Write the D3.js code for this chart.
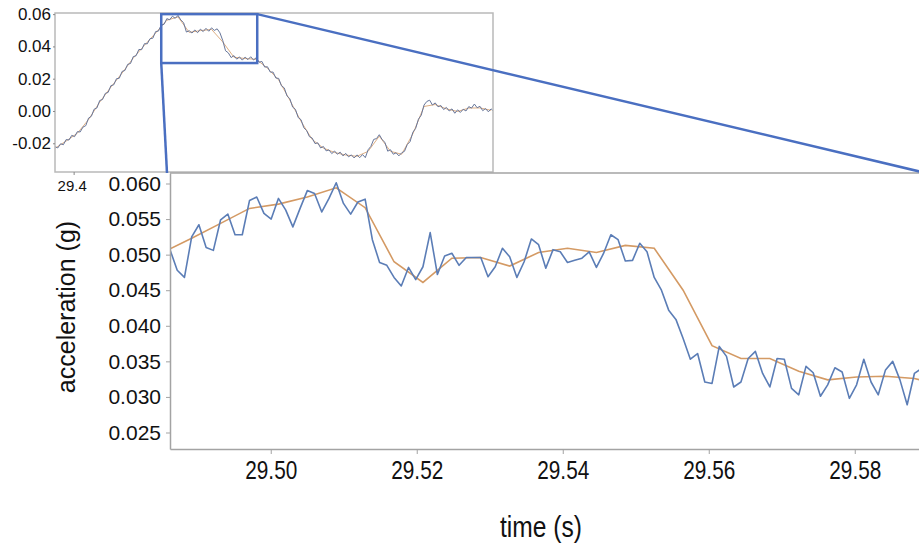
<!DOCTYPE html>
<html>
<head>
<meta charset="utf-8">
<script src="https://cdn.jsdelivr.net/npm/d3@7"></script>
<style>
  body { margin: 0; background: #fff; }
  svg { display: block; }
</style>
</head>
<body>
<svg width="919" height="547"></svg>
<script>
// ---- zoomed panel: raw samples (blue) and smoothed trace (orange) ----
var rawStart = 29.4862, rawStep = 0.00099;
var rawAccel = [
  0.0507, 0.0478, 0.0468, 0.0525, 0.0542, 0.0510, 0.0506, 0.0549, 0.0557, 0.0528,
  0.0528, 0.0576, 0.0581, 0.0558, 0.0550, 0.0579, 0.0563, 0.0539, 0.0565, 0.0590,
  0.0586, 0.0560, 0.0579, 0.0601, 0.0572, 0.0557, 0.0574, 0.0578, 0.0521, 0.0489,
  0.0485, 0.0468, 0.0456, 0.0482, 0.0465, 0.0483, 0.0531, 0.0472, 0.0498, 0.0502,
  0.0485, 0.0496, 0.0496, 0.0496, 0.0469, 0.0483, 0.0509, 0.0497, 0.0468, 0.0490,
  0.0522, 0.0514, 0.0481, 0.0507, 0.0504, 0.0489, 0.0492, 0.0495, 0.0504, 0.0482,
  0.0502, 0.0528, 0.0521, 0.0491, 0.0492, 0.0516, 0.0504, 0.0468, 0.0450, 0.0422,
  0.0409, 0.0382, 0.0353, 0.0361, 0.0321, 0.0319, 0.0371, 0.0357, 0.0314, 0.0321,
  0.0354, 0.0364, 0.0333, 0.0314, 0.0354, 0.0353, 0.0312, 0.0303, 0.0343, 0.0334,
  0.0301, 0.0317, 0.0341, 0.0335, 0.0298, 0.0317, 0.0353, 0.0321, 0.0303, 0.0338,
  0.0350, 0.0324, 0.0289, 0.0333, 0.0340
];
// smoothed trace is kept every 4th sample, starting one sample before rawStart
var smoothStart = 29.4862 - 0.00099, smoothStep = 0.00396;
var smoothAccel = [
  0.0503, 0.0523, 0.0544, 0.0565, 0.0571, 0.0581, 0.0594, 0.0566, 0.0490, 0.0461,
  0.0495, 0.0496, 0.0484, 0.0503, 0.0509, 0.0503, 0.0513, 0.0509, 0.0450, 0.0372,
  0.0354, 0.0354, 0.0336, 0.0324, 0.0328, 0.0329, 0.0326, 0.0316
];
var xTicks = [29.50, 29.52, 29.54, 29.56, 29.58];
var yTicks = [0.025, 0.030, 0.035, 0.040, 0.045, 0.050, 0.055, 0.060];

// ---- overview inset ----
var insetStart = 29.38, insetStep = 0.003;
var insetRaw = [
  -0.0221, -0.0229, -0.0203, -0.0209, -0.0177, -0.0180, -0.0151, -0.0159, -0.0128, -0.0130,
  -0.0100, -0.0091, -0.0044, -0.0033, 0.0011, 0.0019, 0.0065, 0.0071, 0.0109, 0.0115,
  0.0157, 0.0162, 0.0200, 0.0203, 0.0245, 0.0251, 0.0289, 0.0294, 0.0337, 0.0342,
  0.0381, 0.0380, 0.0417, 0.0416, 0.0448, 0.0451, 0.0492, 0.0495, 0.0533, 0.0537,
  0.0572, 0.0565, 0.0587, 0.0574, 0.0592, 0.0564, 0.0547, 0.0489, 0.0497, 0.0483,
  0.0502, 0.0485, 0.0507, 0.0492, 0.0512, 0.0494, 0.0515, 0.0499, 0.0509, 0.0484,
  0.0437, 0.0373, 0.0360, 0.0331, 0.0343, 0.0321, 0.0335, 0.0315, 0.0334, 0.0318,
  0.0336, 0.0316, 0.0330, 0.0302, 0.0307, 0.0272, 0.0274, 0.0241, 0.0241, 0.0204,
  0.0202, 0.0156, 0.0143, 0.0093, 0.0076, 0.0024, 0.0010, -0.0041, -0.0054, -0.0104,
  -0.0121, -0.0159, -0.0168, -0.0202, -0.0197, -0.0229, -0.0220, -0.0247, -0.0241, -0.0264,
  -0.0248, -0.0268, -0.0255, -0.0278, -0.0263, -0.0284, -0.0272, -0.0291, -0.0272, -0.0289,
  -0.0270, -0.0289, -0.0240, -0.0219, -0.0176, -0.0171, -0.0147, -0.0177, -0.0194, -0.0249,
  -0.0240, -0.0268, -0.0259, -0.0278, -0.0259, -0.0250, -0.0208, -0.0190, -0.0132, -0.0108,
  -0.0051, -0.0026, 0.0037, 0.0059, 0.0067, 0.0037, 0.0050, 0.0026, 0.0034, 0.0009,
  0.0022, 0.0000, 0.0013, -0.0014, 0.0007, -0.0009, 0.0011, 0.0000, 0.0027, 0.0018,
  0.0043, 0.0020, 0.0029, 0.0002, 0.0015, -0.0005, 0.0013, -0.0004
];
var insetSmoothStep = 0.012;
var insetSmooth = [
  -0.0231, -0.0186, -0.0138, -0.0053, 0.0055, 0.0148, 0.0235, 0.0328, 0.0407, 0.0483,
  0.0562, 0.0583, 0.0487, 0.0498, 0.0505, 0.0428, 0.0333, 0.0325, 0.0320, 0.0265,
  0.0192, 0.0067, -0.0064, -0.0177, -0.0230, -0.0257, -0.0273, -0.0281, -0.0250, -0.0156,
  -0.0250, -0.0268, -0.0142, 0.0028, 0.0040, 0.0013, -0.0003, 0.0018, 0.0019, 0.0004
];
// only the first inset time label is left uncovered by the big panel
var insetXTicks = [29.4];
var insetYTicks = [-0.02, 0.00, 0.02, 0.04, 0.06];
// region of the inset that the big panel shows
var zoomTime = [29.494, 29.597];
var zoomAccel = [0.0297, 0.060];

var svg = d3.select("svg"),
    width = +svg.attr("width"),
    height = +svg.attr("height");

var blue = "#5b7db6", orange = "#d49a64", boxBlue = "#4a6fc1", axisGray = "#a3a3a3";
var sans = "'Liberation Sans', Arial, Helvetica, sans-serif";

function toPoints(values, start, step) {
    return values.map(function (v, i) { return { t: start + i * step, a: v }; });
}

// ================= inset =================
var ix = d3.scaleLinear().domain([29.38, 29.85]).range([55, 493]);
var iy = d3.scaleLinear().domain([-0.0378, 0.0607]).range([172, 13]);

svg.append("clipPath").attr("id", "clipInset")
    .append("rect").attr("x", 55).attr("y", 13).attr("width", 438).attr("height", 159);

var insetLine = d3.line()
    .x(function (d) { return ix(d.t); })
    .y(function (d) { return iy(d.a); });

var inset = svg.append("g").attr("class", "inset");

inset.append("path")
    .datum(toPoints(insetSmooth, insetStart, insetSmoothStep))
    .attr("clip-path", "url(#clipInset)")
    .attr("fill", "none")
    .attr("stroke", orange)
    .attr("stroke-opacity", 0.8)
    .attr("stroke-width", 1)
    .attr("d", insetLine);

inset.append("path")
    .datum(toPoints(insetRaw, insetStart, insetStep))
    .attr("clip-path", "url(#clipInset)")
    .attr("fill", "none")
    .attr("stroke", "#67769a")
    .attr("stroke-width", 1)
    .attr("d", insetLine);

inset.append("rect")
    .attr("x", 55).attr("y", 13).attr("width", 438).attr("height", 159)
    .attr("fill", "none")
    .attr("stroke", "#b9b9b9")
    .attr("stroke-width", 1.5);

var insetYAxis = inset.append("g")
    .attr("transform", "translate(55,0)")
    .call(d3.axisLeft(iy).tickValues(insetYTicks).tickSize(2).tickPadding(2)
        .tickFormat(function (d) { return d3.format(".2f")(d).replace("\u2212", "-"); }));
var insetXAxis = inset.append("g")
    .attr("transform", "translate(0,172)")
    .call(d3.axisBottom(ix).tickValues(insetXTicks).tickSize(3).tickPadding(5)
        .tickFormat(d3.format(".1f")));

[insetYAxis, insetXAxis].forEach(function (g) {
    g.select(".domain").remove();
    g.selectAll(".tick line").attr("stroke", "#888");
    g.selectAll("text").attr("fill", "#111").style("font-family", sans);
});
insetYAxis.selectAll("text").style("font-size", "17px");
insetXAxis.selectAll("text").style("font-size", "15px").attr("x", -2);

// ================= main panel =================
var x = d3.scaleLinear().domain([29.4862, 29.5888]).range([170, 919]);
var y = d3.scaleLinear().domain([0.022681, 0.061476]).range([449, 173]);

// the big panel sits on top of the lower part of the inset
svg.append("rect")
    .attr("x", 96).attr("y", 173.5)
    .attr("width", width - 96).attr("height", height - 173.5)
    .attr("fill", "#fff");

svg.append("clipPath").attr("id", "clipMain")
    .append("rect").attr("x", 170).attr("y", 173).attr("width", 760).attr("height", 276);

var line = d3.line()
    .x(function (d) { return x(d.t); })
    .y(function (d) { return y(d.a); });

svg.append("line")
    .attr("x1", 170).attr("x2", width)
    .attr("y1", 173).attr("y2", 173)
    .attr("stroke", axisGray)
    .attr("stroke-width", 1.5);

svg.append("path")
    .datum(toPoints(smoothAccel, smoothStart, smoothStep))
    .attr("clip-path", "url(#clipMain)")
    .attr("fill", "none")
    .attr("stroke", orange)
    .attr("stroke-width", 1.6)
    .attr("d", line);

svg.append("path")
    .datum(toPoints(rawAccel, rawStart, rawStep))
    .attr("clip-path", "url(#clipMain)")
    .attr("fill", "none")
    .attr("stroke", blue)
    .attr("stroke-width", 1.6)
    .attr("stroke-linejoin", "round")
    .attr("d", line);

var yAxis = svg.append("g")
    .attr("transform", "translate(170,0)")
    .call(d3.axisLeft(y).tickValues(yTicks).tickSize(4).tickPadding(5).tickSizeOuter(0)
        .tickFormat(d3.format(".3f")));
var xAxis = svg.append("g")
    .attr("transform", "translate(0,449)")
    .call(d3.axisBottom(x).tickValues(xTicks).tickSize(5).tickPadding(7).tickSizeOuter(0)
        .tickFormat(d3.format(".2f")));

[yAxis, xAxis].forEach(function (g) {
    g.select(".domain").attr("stroke", axisGray).attr("stroke-width", 1.5);
    g.selectAll(".tick line").attr("stroke", axisGray);
    g.selectAll("text").attr("fill", "#111").style("font-family", sans);
});
yAxis.selectAll("text").style("font-size", "21px");
// time labels in the reference are a tall, condensed face
xAxis.selectAll("text").style("font-size", "26px").attr("transform", "scale(0.8,1)");

svg.append("text")
    .attr("transform", "translate(75,307) rotate(-90)")
    .attr("text-anchor", "middle")
    .style("font-family", sans)
    .style("font-size", "25px")
    .attr("fill", "#111")
    .text("acceleration (g)");

svg.append("text")
    .attr("transform", "translate(541,537) scale(0.82,1)")
    .attr("text-anchor", "middle")
    .style("font-family", sans)
    .style("font-size", "30px")
    .attr("fill", "#111")
    .text("time (s)");

// ================= zoom box and connectors =================
var bx0 = ix(zoomTime[0]), bx1 = ix(zoomTime[1]),
    by0 = iy(zoomAccel[1]), by1 = iy(zoomAccel[0]);

svg.append("rect")
    .attr("x", bx0).attr("y", by0)
    .attr("width", bx1 - bx0).attr("height", by1 - by0)
    .attr("fill", "none")
    .attr("stroke", boxBlue)
    .attr("stroke-width", 2.5);

svg.append("line")
    .attr("x1", bx0).attr("y1", by1)
    .attr("x2", 167).attr("y2", 173)
    .attr("stroke", boxBlue).attr("stroke-width", 2.5);

svg.append("line")
    .attr("x1", bx1).attr("y1", by0)
    .attr("x2", 930).attr("y2", 174)
    .attr("stroke", boxBlue).attr("stroke-width", 2.5);
</script>
</body>
</html>
